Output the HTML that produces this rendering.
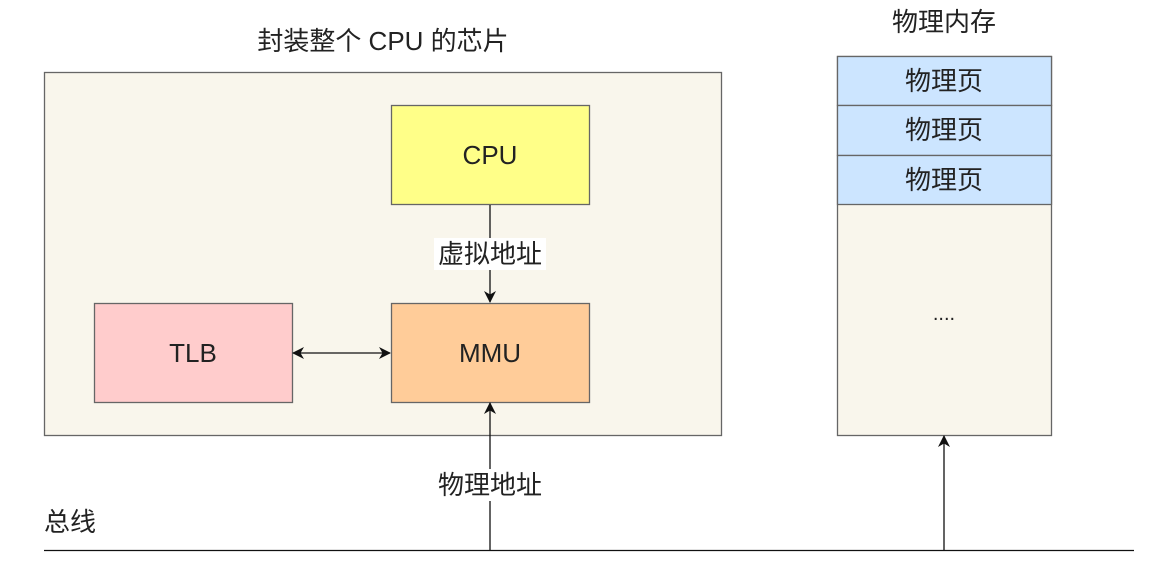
<!DOCTYPE html>
<html><head><meta charset="utf-8"><style>
body{margin:0;background:#fff;}
text{font-family:"Liberation Sans","Noto Sans CJK SC",sans-serif;fill:#222;}
</style></head><body>
<svg width="1157" height="566" viewBox="0 0 1157 566" xmlns="http://www.w3.org/2000/svg">
<defs><marker id="a" markerWidth="12" markerHeight="12" refX="11" refY="6" orient="auto-start-reverse" markerUnits="userSpaceOnUse"><path d="M0,0 L12,6 L0,12 L3.5,6 z" fill="#111"/></marker></defs>
<rect width="1157" height="566" fill="#fff"/>
<text x="383" y="50" font-size="26" text-anchor="middle">封装整个 CPU 的芯片</text>
<rect x="44.5" y="72.5" width="677" height="363" fill="#f9f6ec" stroke="#666" stroke-width="1.3"/>
<rect x="391.5" y="105.5" width="198" height="99" fill="#ffff88" stroke="#666" stroke-width="1.3"/>
<text x="490" y="164" font-size="26" text-anchor="middle">CPU</text>
<rect x="391.5" y="303.5" width="198" height="99" fill="#ffcc99" stroke="#666" stroke-width="1.3"/>
<text x="490" y="362" font-size="26" text-anchor="middle">MMU</text>
<rect x="94.5" y="303.5" width="198" height="99" fill="#ffcccc" stroke="#666" stroke-width="1.3"/>
<text x="193" y="362" font-size="26" text-anchor="middle">TLB</text>
<line x1="490" y1="205" x2="490" y2="302" stroke="#111" stroke-width="1.3" marker-end="url(#a)"/>
<rect x="434" y="238" width="112" height="32" fill="#fff"/>
<text x="490" y="263" font-size="26" text-anchor="middle">虚拟地址</text>
<line x1="293" y1="353" x2="390" y2="353" stroke="#111" stroke-width="1.3" marker-start="url(#a)" marker-end="url(#a)"/>
<line x1="490" y1="550" x2="490" y2="403" stroke="#111" stroke-width="1.3" marker-end="url(#a)"/>
<rect x="434" y="469" width="112" height="32" fill="#fff"/>
<text x="490" y="494" font-size="26" text-anchor="middle">物理地址</text>
<text x="944" y="31" font-size="26" text-anchor="middle">物理内存</text>
<rect x="837.5" y="56.5" width="214" height="379" fill="#f9f6ec" stroke="#666" stroke-width="1.3"/>
<rect x="837.5" y="56.5" width="214" height="49" fill="#cce5ff" stroke="#666" stroke-width="1.3"/>
<rect x="837.5" y="105.5" width="214" height="50" fill="#cce5ff" stroke="#666" stroke-width="1.3"/>
<rect x="837.5" y="155.5" width="214" height="49" fill="#cce5ff" stroke="#666" stroke-width="1.3"/>
<text x="944" y="90" font-size="26" text-anchor="middle">物理页</text>
<text x="944" y="139" font-size="26" text-anchor="middle">物理页</text>
<text x="944" y="189" font-size="26" text-anchor="middle">物理页</text>
<text x="944" y="320" font-size="20" text-anchor="middle">....</text>
<line x1="944" y1="550" x2="944" y2="436" stroke="#111" stroke-width="1.3" marker-end="url(#a)"/>
<line x1="44" y1="550.5" x2="1134" y2="550.5" stroke="#111" stroke-width="1.3"/>
<text x="44" y="531" font-size="26">总线</text>
</svg>
</body></html>
